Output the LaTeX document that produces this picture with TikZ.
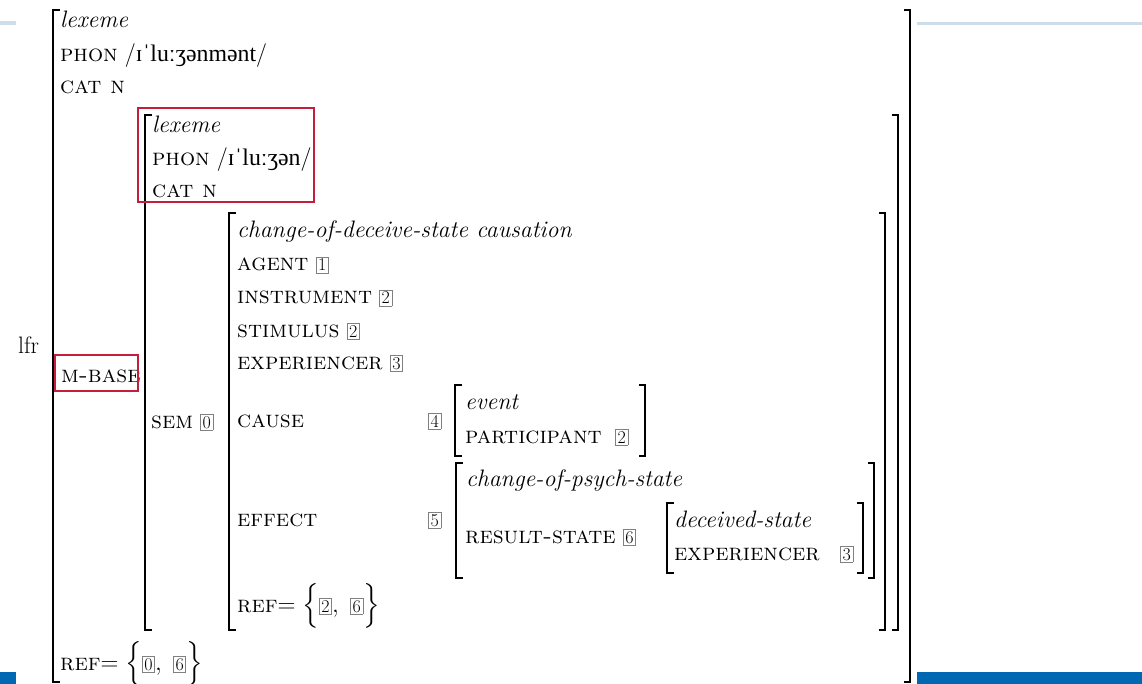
\documentclass[tikz,border=0pt]{standalone}
\usepackage{amsmath}
\usepackage{fontspec}
\newfontfamily\ipafont{Liberation Serif}
\definecolor{boxred}{RGB}{196,30,58}
\definecolor{barblue}{RGB}{0,104,178}
\definecolor{lineblue}{RGB}{205,222,235}
\newcommand{\tg}[1]{{\setlength\fboxsep{1.7pt}\setlength\fboxrule{0.7pt}\fcolorbox{gray}{white}{\fontsize{18}{20}\selectfont #1}}}
\begin{document}
\begin{tikzpicture}[x=1pt,y=-1pt,
  txt/.style={anchor=base west, inner sep=0pt, font=\fontsize{23.8}{28}\selectfont},
  brk/.style={line width=1.2pt},
  redbox/.style={draw=boxred, line width=1.6pt}]
\useasboundingbox (0,0) rectangle (1142,684);
% decorative bars
\fill[lineblue] (0,21.5) rectangle (16,25);
\fill[lineblue] (917,22) rectangle (1142,25.5);
\fill[barblue] (0,672) rectangle (16,684);
\fill[barblue] (917,672) rectangle (1142,684);
% outer bracket
\draw[brk] (60,10) -- (53,10) -- (53,682) -- (60,682);
\draw[brk] (904,10) -- (910,10) -- (910,682) -- (904,682);
\node[txt] (lfr) at (18,353) {lfr};
\node[txt] (lx1) at (60,28) {\textit{lexeme}};
\node[txt] (ph1) at (60,62) {\textsc{phon} /{\ipafont ɪˈluːʒənmənt}/};
\node[txt] (ct1) at (60,94) {\textsc{cat n}};
\node[txt] (mb) at (61,382) {\textsc{m-base}};
\draw[redbox] (55,355) rectangle (138,391);
\node[txt] (ref1) at (60,670) {\textsc{ref}$=\Big\{\tg{0},\ \tg{6}\Big\}$};
% M-BASE value bracket
\draw[brk] (152,115) -- (145,115) -- (145,630) -- (152,630);
\draw[brk] (892,115) -- (898,115) -- (898,630) -- (892,630);
\draw[redbox] (138,108) rectangle (314,202);
\node[txt] (lx2) at (152,133) {\textit{lexeme}};
\node[txt] (ph2) at (152,166) {\textsc{phon} /{\ipafont ɪˈluːʒən}/};
\node[txt] (ct2) at (152,198) {\textsc{cat n}};
\node[txt] (sem) at (151,428) {\textsc{sem} \tg{0}};
% SEM bracket
\draw[brk] (236,213) -- (229,213) -- (229,630) -- (236,630);
\draw[brk] (879,213) -- (885,213) -- (885,630) -- (879,630);
\node[txt] (cds) at (237,238) {\textit{change-of-deceive-state causation}};
\node[txt] (ag) at (237,271) {\textsc{agent} \tg{1}};
\node[txt] (ins) at (237,304) {\textsc{instrument} \tg{2}};
\node[txt] (sti) at (237,337) {\textsc{stimulus} \tg{2}};
\node[txt] (exp) at (237,369) {\textsc{experiencer} \tg{3}};
\node[txt] (cau) at (237,427) {\textsc{cause}};
\node[txt] (t4) at (428,427) {\tg{4}};
\node[txt] (eff) at (237,526) {\textsc{effect}};
\node[txt] (t5) at (428,526) {\tg{5}};
\node[txt] (ref2) at (237,612) {\textsc{ref}$=\Big\{\tg{2},\ \tg{6}\Big\}$};
% CAUSE bracket
\draw[brk] (462,385) -- (455,385) -- (455,456) -- (462,456);
\draw[brk] (639,385) -- (645,385) -- (645,456) -- (639,456);
\node[txt] (ev) at (465,409) {\textit{event}};
\node[txt] (par) at (465,443) {\textsc{participant}};
\node[txt] (t2) at (615,443) {\tg{2}};
% EFFECT bracket
\draw[brk] (463,463) -- (456,463) -- (456,578) -- (463,578);
\draw[brk] (868,463) -- (874,463) -- (874,578) -- (868,578);
\node[txt] (cps) at (466,486) {\textit{change-of-psych-state}};
\node[txt] (rs) at (465,543) {\textsc{result-state} \tg{6}};
% RESULT-STATE bracket
\draw[brk] (674,503) -- (667,503) -- (667,573) -- (674,573);
\draw[brk] (857,503) -- (863,503) -- (863,573) -- (857,573);
\node[txt] (ds) at (674,527) {\textit{deceived-state}};
\node[txt] (exp2) at (674,560) {\textsc{experiencer}};
\node[txt] (t3) at (840,560) {\tg{3}};
\end{tikzpicture}
\end{document}
